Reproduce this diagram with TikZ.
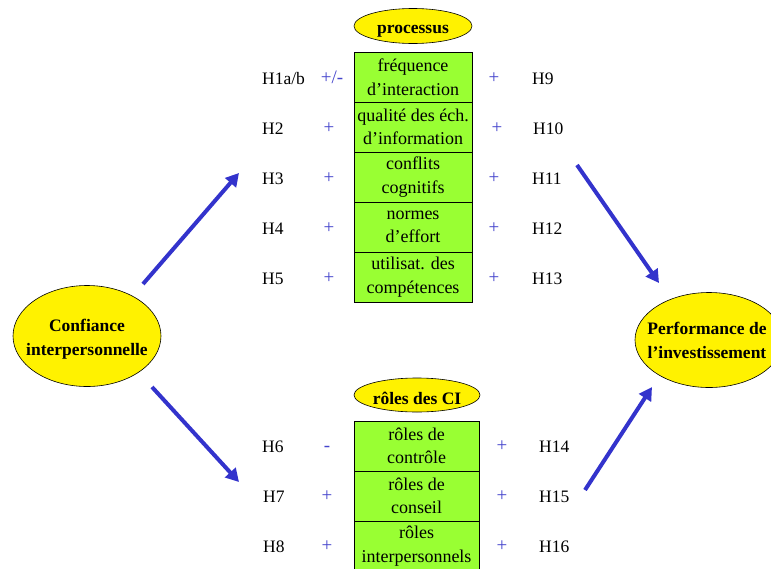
\documentclass[tikz,border=0pt]{standalone}
\usepackage{fontspec}
\setmainfont{Liberation Serif}
\usetikzlibrary{shapes.geometric,arrows.meta}
\definecolor{boxgreen}{HTML}{99FF33}
\definecolor{arrowblue}{HTML}{3333CC}
\definecolor{signblue}{HTML}{4444CC}
\begin{document}
\begin{tikzpicture}[x=1pt,y=-1pt,
  txt/.style={font=\fontsize{17.5}{23.5}\selectfont},
  cell/.style={draw, fill=boxgreen, minimum height=50pt, inner sep=0pt, align=center, font=\fontsize{18}{23.5}\selectfont, line width=0.8pt},
  oval/.style={ellipse, draw, fill=yellow, inner sep=0pt, line width=0.6pt},
  ovaltext/.style={align=center, inner sep=0pt, font=\bfseries\fontsize{17.5}{24}\selectfont},
  hyp/.style={anchor=west, txt, inner sep=0pt},
  sign/.style={font=\fontsize{19}{23}\selectfont, text=signblue, inner sep=0pt, text height=13pt, text depth=4pt},
  flow/.style={arrowblue, line width=4pt, -{Triangle[length=13pt,width=14pt]}}]
\useasboundingbox (0,0) rectangle (771,568);
\clip (0,0) rectangle (771,568);

% main ellipses
\node[oval, minimum width=148pt, minimum height=101pt] (conf) at (87,336) {};
\node[ovaltext] (conft) at (87,339) {Confiance\\interpersonnelle};
\node[oval, minimum width=148pt, minimum height=95pt] (perf) at (709,340) {};
\node[ovaltext] (perft) at (707,340) {Performance de\\l’investissement};
\node[oval, minimum width=118pt, minimum height=35pt] (proc) at (413,26) {};
\node[ovaltext] (proct) at (413,31) {processus};
\node[oval, minimum width=126pt, minimum height=34pt] (roles) at (417,395) {};
\node[ovaltext] (rolest) at (417,398) {rôles des CI};

% process cells
\begin{scope}[every node/.append style={minimum width=118pt}]
\node[cell] (p1) at (413,77) {fréquence\\d’interaction};
\node[cell] (p2) at (413,127) {qualité des éch.\\d’information};
\node[cell] (p3) at (413,177) {conflits\\cognitifs};
\node[cell] (p4) at (413,227) {normes\\d’effort};
\node[cell] (p5) at (413,277) {utilisat. des\\compétences};
\end{scope}

% role cells
\begin{scope}[every node/.append style={minimum width=125pt}]
\node[cell] (r1) at (416.5,446) {rôles de\\contrôle};
\node[cell] (r2) at (416.5,496) {rôles de\\conseil};
\node[cell] (r3) at (416.5,546) {rôles\\interpersonnels};
\end{scope}

% left hypotheses (process)
\node[hyp] (h1) at (262,79) {H1a/b};
\node[hyp] (h2) at (262,129) {H2};
\node[hyp] (h3) at (262,179) {H3};
\node[hyp] (h4) at (262,229) {H4};
\node[hyp] (h5) at (262,279) {H5};
\node[sign] (s1) at (332,79) {+/-};
\node[sign] (s2) at (329,129) {+};
\node[sign] (s3) at (329,179) {+};
\node[sign] (s4) at (329,229) {+};
\node[sign] (s5) at (329,279) {+};

% right hypotheses (process)
\node[sign] (s9) at (494,79) {+};
\node[sign] (s10) at (497,129) {+};
\node[sign] (s11) at (494,179) {+};
\node[sign] (s12) at (494,229) {+};
\node[sign] (s13) at (494,279) {+};
\node[hyp] (h9) at (532,79) {H9};
\node[hyp] (h10) at (533,129) {H10};
\node[hyp] (h11) at (532,179) {H11};
\node[hyp] (h12) at (532,229) {H12};
\node[hyp] (h13) at (532,279) {H13};

% left hypotheses (roles)
\node[hyp] (h6) at (262,447) {H6};
\node[hyp] (h7) at (263,497) {H7};
\node[hyp] (h8) at (263,547) {H8};
\node[sign] (s6) at (327,447) {-};
\node[sign] (s7) at (327,497) {+};
\node[sign] (s8) at (327,547) {+};

% right hypotheses (roles)
\node[sign] (s14) at (502,447) {+};
\node[sign] (s15) at (502,497) {+};
\node[sign] (s16) at (502,547) {+};
\node[hyp] (h14) at (539,447) {H14};
\node[hyp] (h15) at (539,497) {H15};
\node[hyp] (h16) at (539,547) {H16};

% arrows
\coordinate (a1s) at (143,284); \coordinate (a1e) at (239,173);
\coordinate (a2s) at (152,387); \coordinate (a2e) at (239,482);
\coordinate (a3s) at (577,165); \coordinate (a3e) at (659,283);
\coordinate (a4s) at (585,490); \coordinate (a4e) at (652,387);
\draw[flow] (a1s) -- (a1e);
\draw[flow] (a2s) -- (a2e);
\draw[flow] (a3s) -- (a3e);
\draw[flow] (a4s) -- (a4e);
\end{tikzpicture}
\end{document}
